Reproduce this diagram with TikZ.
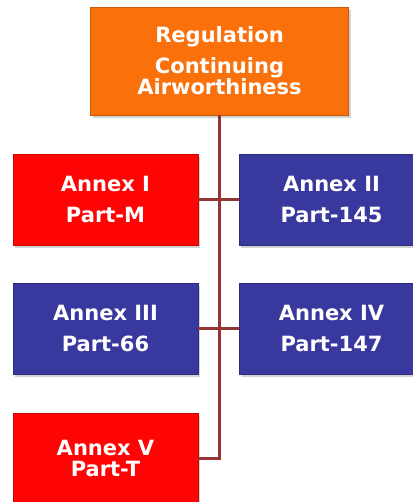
\documentclass[tikz,border=0pt]{standalone}
\usepackage{fontspec}
\setmainfont{DejaVu Sans}
\usetikzlibrary{shadows}

\definecolor{regorange}{RGB}{250,112,10}
\definecolor{annexred}{RGB}{255,4,4}
\definecolor{annexblue}{RGB}{56,56,158}
\definecolor{linkred}{RGB}{150,52,52}

\tikzset{every picture/.style={line width=0.5pt}}
\tikzset{
  box/.style={rectangle, draw=#1!80!black, line width=0.6pt, fill=#1, text=white,
    font=\fontsize{21}{21}\selectfont\bfseries, align=center, inner sep=0pt,
    minimum width=185, minimum height=91,
    drop shadow={shadow xshift=2pt, shadow yshift=-3pt, opacity=0.35}},
  link/.style={draw=linkred, line width=3pt}
}

\begin{document}
\begin{tikzpicture}[x=1pt,y=1pt,yscale=-1]
        \useasboundingbox (0,0) rectangle (412,502);

        % regulation at the top
        \node[box=regorange, minimum width=258, minimum height=108] (reg) at (219.5,61)
            {Regulation\\[10pt]Continuing\\Airworthiness};

        % annexes
        \node[box=annexred]  (annexI)   at (105.5,199.5) {Annex I\\[10pt]Part-M};
        \node[box=annexblue] (annexII)  at (331.5,199.5) {Annex II\\[10pt]Part-145};
        \node[box=annexblue] (annexIII) at (105.5,328.5) {Annex III\\[10pt]Part-66};
        \node[box=annexblue] (annexIV)  at (331.5,328.5) {Annex IV\\[10pt]Part-147};
        \node[box=annexred]  (annexV)   at (105.5,458.5) {Annex V\\Part-T};

        % connectors
        \draw[link] (reg.south) |- (annexV.east);
        \draw[link] (annexI.east) -- (annexII.west);
        \draw[link] (annexIII.east) -- (annexIV.west);

        \end{tikzpicture}
\end{document}
